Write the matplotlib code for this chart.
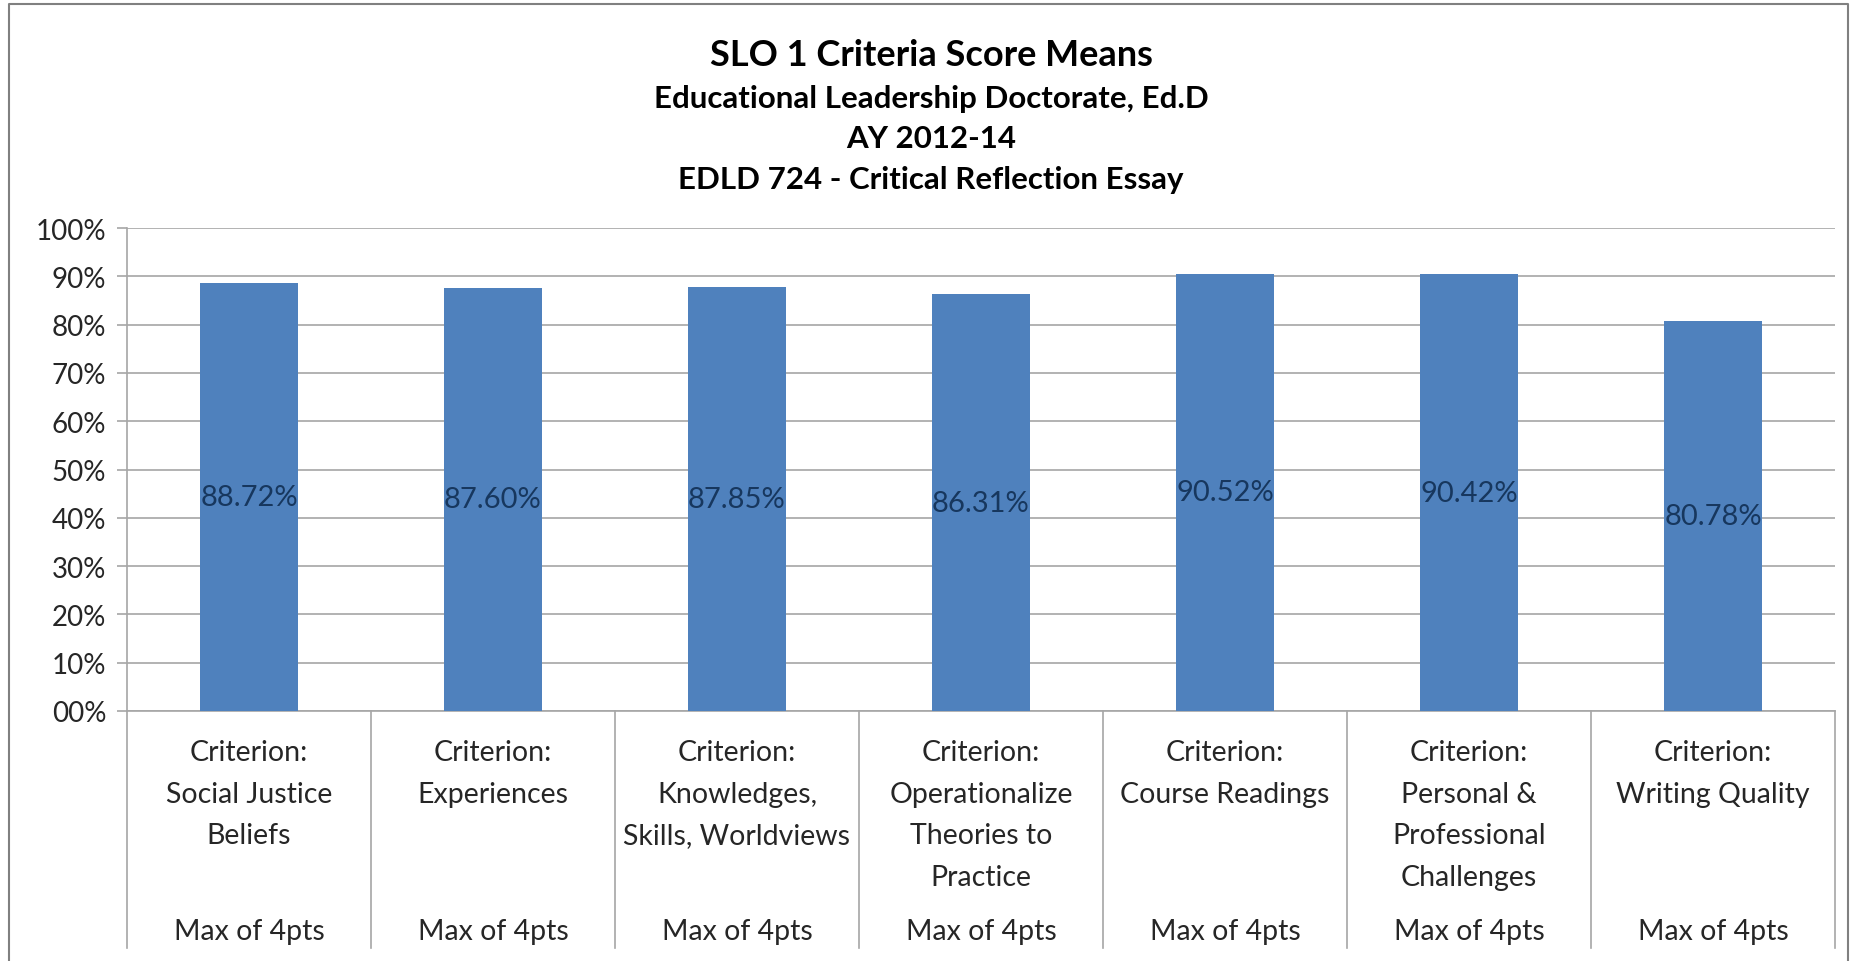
import matplotlib.pyplot as plt
from matplotlib.ticker import FuncFormatter
from matplotlib.lines import Line2D

plt.rcParams['font.family'] = ['Lato', 'DejaVu Sans']

# data
criteria = [
    "Criterion:\nSocial Justice\nBeliefs",
    "Criterion:\nExperiences",
    "Criterion:\nKnowledges,\nSkills, Worldviews",
    "Criterion:\nOperationalize\nTheories to\nPractice",
    "Criterion:\nCourse Readings",
    "Criterion:\nPersonal &\nProfessional\nChallenges",
    "Criterion:\nWriting Quality",
]
max_points = ["Max of 4pts"] * 7
score_means = [88.72, 87.60, 87.85, 86.31, 90.52, 90.42, 80.78]
title_lines = [
    "Educational Leadership Doctorate, Ed.D",
    "AY 2012-14",
    "EDLD 724 - Critical Reflection Essay",
]

bar_color = '#4F81BD'
label_color = '#17375E'
grid_color = '#A6A6A6'
text_color = '#262626'

fig = plt.figure(figsize=(18.62, 9.62), dpi=100)
ax = fig.add_axes([0.0682, 0.2599, 0.9173, 0.502])

x = list(range(len(score_means)))
ax.bar(x, score_means, width=0.4, color=bar_color, zorder=3)

# data labels in the middle of each bar
for xi, v in zip(x, score_means):
    ax.text(xi, v / 2, f"{v:.2f}%", ha='center', va='center',
            fontsize=21, color=label_color, zorder=4)

ax.set_xlim(-0.5, len(score_means) - 0.5)
ax.set_ylim(0, 100)
ax.set_yticks(range(0, 101, 10))
ax.yaxis.set_major_formatter(FuncFormatter(lambda v, p: f"{int(v):02d}%"))
ax.tick_params(axis='y', length=7, width=1.2, color=grid_color,
               labelsize=20, pad=8, labelcolor=text_color)
ax.set_xticks([])
ax.grid(axis='y', color=grid_color, linewidth=1.2, zorder=0)
for s in ['top', 'right']:
    ax.spines[s].set_visible(False)
for s in ['bottom', 'left']:
    ax.spines[s].set_color(grid_color)
    ax.spines[s].set_linewidth(1.2)

# category cells under the axis
trans = ax.get_xaxis_transform()
cell_bottom = -0.49
for i in range(len(criteria) + 1):
    ax.add_line(Line2D([i - 0.5, i - 0.5], [0, cell_bottom], transform=trans,
                       color=grid_color, linewidth=1.2, clip_on=False))
for xi, lab, mp in zip(x, criteria, max_points):
    ax.text(xi, -0.058, lab, transform=trans, ha='center', va='top',
            fontsize=20.5, color=text_color, linespacing=1.75)
    ax.text(xi, -0.455, mp, transform=trans, ha='center', va='center',
            fontsize=20.5, color=text_color)

# titles
fig.text(0.5, 0.942, "SLO 1 Criteria Score Means", ha='center', va='center',
         fontsize=26, fontweight='bold')
for k, t in enumerate(title_lines):
    fig.text(0.5, 0.897 - k * 0.042, t, ha='center', va='center',
             fontsize=22.5, fontweight='bold')

# outer chart frame
fig.add_artist(Line2D([0.005, 0.005, 0.9925, 0.9925], [0.0, 0.995, 0.995, 0.0],
                      transform=fig.transFigure, color='#808080', linewidth=1.5))

fig.savefig('out.png', dpi=100, facecolor='white')
